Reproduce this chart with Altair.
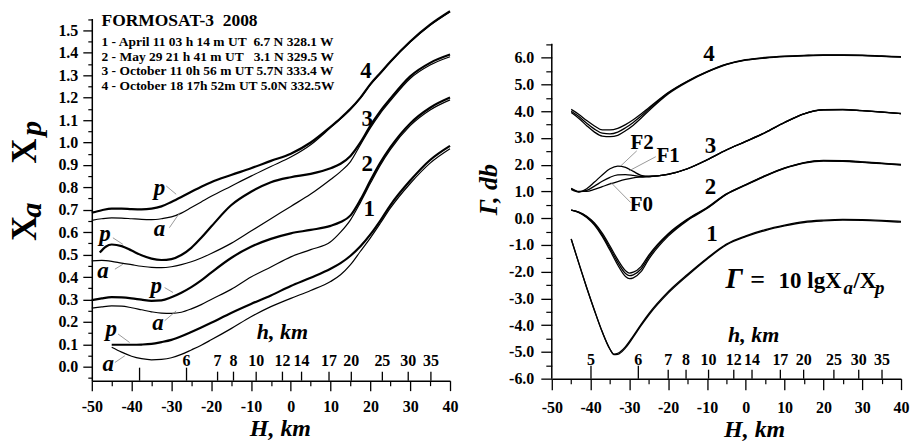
import altair as alt
import pandas as pd

FONT = "Liberation Serif"
NB = "\u00a0"

# ======================= LEFT PANEL DATA (Xa, Xp vs H) =======================
H_grid = [-50, -47.5, -45, -42.5, -40, -37.5, -35, -32.5, -30, -27.5, -25, -22.5, -20,
          -15, -10, -5, 0, 5, 10, 12.5, 15, 17.5, 20, 22.5, 25, 30, 35, 40]
H_3p = [-48, -46.5, -45, -42.5, -40, -37.5, -35, -32.5, -30, -27.5, -25, -22.5, -20,
        -15, -10, -5, 0, 5, 10, 12.5, 15, 17.5, 20, 22.5, 25, 30, 35, 40]
H_1 = [-45, -42.5, -40, -37.5, -35, -32.5, -30, -27.5, -25, -22.5, -20,
       -15, -10, -5, 0, 5, 10, 12.5, 15, 17.5, 20, 22.5, 25, 30, 35, 40]

x4p = [0.687, 0.698, 0.705, 0.705, 0.703, 0.702, 0.705, 0.715, 0.735, 0.757, 0.78, 0.803, 0.823,
       0.855, 0.885, 0.918, 0.95, 1.0, 1.07, 1.108, 1.15, 1.2, 1.26, 1.31, 1.36, 1.45, 1.525, 1.585]
x4a = [0.653, 0.66, 0.664, 0.663, 0.66, 0.657, 0.656, 0.66, 0.668, 0.685, 0.71, 0.735, 0.76,
       0.805, 0.85, 0.893, 0.935, 0.99, 1.066, 1.105, 1.148, 1.198, 1.258, 1.308, 1.358, 1.448, 1.523, 1.583]
x3p = [0.509, 0.535, 0.545, 0.538, 0.518, 0.497, 0.482, 0.476, 0.48, 0.498, 0.53, 0.575, 0.625,
       0.72, 0.78, 0.823, 0.845, 0.86, 0.885, 0.905, 0.94, 1.0, 1.075, 1.14, 1.195, 1.295, 1.355, 1.392]
x3a = [0.472, 0.474, 0.47, 0.462, 0.455, 0.448, 0.443, 0.442, 0.446, 0.455, 0.468, 0.485, 0.505,
       0.55, 0.605, 0.66, 0.715, 0.77, 0.835, 0.87, 0.915, 0.99, 1.065, 1.13, 1.185, 1.285, 1.345, 1.382]
x2p = [0.297, 0.305, 0.31, 0.309, 0.305, 0.299, 0.294, 0.296, 0.31, 0.33, 0.355, 0.385, 0.42,
       0.485, 0.535, 0.57, 0.595, 0.61, 0.628, 0.645, 0.675, 0.745, 0.83, 0.91, 0.978, 1.085, 1.155, 1.2]
x2a = [0.261, 0.267, 0.271, 0.27, 0.263, 0.254, 0.245, 0.239, 0.238, 0.243, 0.258, 0.277, 0.3,
       0.345, 0.4, 0.445, 0.49, 0.522, 0.557, 0.6, 0.655, 0.733, 0.818, 0.899, 0.968, 1.075, 1.145, 1.19]
x1p = [0.098, 0.098, 0.098, 0.099, 0.102, 0.11, 0.12, 0.136, 0.155, 0.175, 0.196,
       0.24, 0.28, 0.318, 0.36, 0.397, 0.437, 0.462, 0.495, 0.537, 0.59, 0.652, 0.72, 0.83, 0.922, 0.985]
x1a = [0.087, 0.065, 0.047, 0.036, 0.031, 0.033, 0.04, 0.055, 0.075, 0.096, 0.12,
       0.17, 0.223, 0.268, 0.305, 0.34, 0.38, 0.41, 0.455, 0.515, 0.575, 0.64, 0.707, 0.817, 0.908, 0.972]

left_series = [
    ("4p", "p", H_grid, x4p), ("4a", "a", H_grid, x4a),
    ("3p", "p", H_3p, x3p), ("3a", "a", H_grid, x3a),
    ("2p", "p", H_grid, x2p), ("2a", "a", H_grid, x2a),
    ("1p", "p", H_1, x1p), ("1a", "a", H_1, x1a),
]

# p / a labels and their leader lines
pa_text = ["p", "a", "p", "a", "p", "a", "p", "a"]
pa_H = [-33.0, -33.0, -46.7, -47.2, -33.8, -33.4, -45.1, -45.9]
pa_v = [0.798, 0.613, 0.592, 0.427, 0.36, 0.197, 0.168, 0.012]
ldL_H1 = [-31.3, -30.5, -44.7, -44.2, -31.7, -31.7, -43.4, -44.2]
ldL_v1 = [0.806, 0.62, 0.575, 0.435, 0.353, 0.205, 0.146, 0.019]
ldL_H2 = [-28.8, -27.9, -42.2, -42.2, -29.6, -28.8, -40.5, -41.7]
ldL_v2 = [0.769, 0.687, 0.546, 0.457, 0.331, 0.249, 0.108, 0.049]

numL_text = ["4", "3", "2", "1"]
numL_H = [18.9, 19.2, 19.2, 19.7]
numL_v = [1.317, 1.104, 0.903, 0.703]

# h (km) scale marks along the H axis
hL_vals = [5, 6, 7, 8, 10, 12, 14, 17, 20, 25, 30, 35]
hL_text = ["", "6", "7", "8", "10", "12", "14", "17", "20", "25", "30", "35"]
hL_H = [-38.0, -26.2, -18.4, -14.4, -8.7, -2.1, 2.7, 9.6, 15.2, 23.0, 29.5, 35.2]

title_main = "FORMOSAT-3" + NB + " 2008"
legend_lines = [
    "1 - April 11 03 h 14 m UT" + NB + " 6.7 N 328.1 W",
    "2 - May 29 21 h 41 m UT" + NB + NB + " 3.1 N 329.5 W",
    "3 - October 11 0h 56 m UT 5.7N 333.4 W",
    "4 - October 18 17h 52m UT 5.0N 332.5W",
]

# ======================= RIGHT PANEL DATA (Gamma vs H) =======================
HR = [-45, -43, -41, -39, -37, -35, -33, -31, -29, -27, -25, -20, -15, -10, -5, 0, 5, 10, 15, 20, 25, 30, 35, 40]
g4_hi = [4.07, 3.88, 3.65, 3.45, 3.3, 3.3, 3.36, 3.5, 3.68, 3.9, 4.13, 4.7, 5.13, 5.48, 5.76, 5.93, 6.01, 6.06, 6.09, 6.11, 6.11, 6.1, 6.07, 6.04]
g4_mid = [4.0, 3.8, 3.55, 3.33, 3.18, 3.15, 3.22, 3.38, 3.58, 3.82, 4.08, 4.68, 5.12, 5.47, 5.75, 5.92, 6.0, 6.05, 6.08, 6.1, 6.1, 6.09, 6.06, 6.03]
g4_lo = [3.95, 3.73, 3.46, 3.22, 3.07, 3.05, 3.1, 3.27, 3.48, 3.74, 4.02, 4.65, 5.1, 5.46, 5.74, 5.91, 5.99, 6.04, 6.07, 6.09, 6.09, 6.08, 6.05, 6.02]
g3_F0 = [1.12, 1.0, 1.0, 1.08, 1.18, 1.28, 1.37, 1.45, 1.51, 1.54, 1.56, 1.64, 1.85, 2.18, 2.55, 2.87, 3.2, 3.58, 3.9, 4.05, 4.06, 4.02, 3.97, 3.91]
g3_F1 = [1.1, 0.99, 1.04, 1.2, 1.38, 1.53, 1.62, 1.63, 1.6, 1.56, 1.56, 1.64, 1.85, 2.18, 2.55, 2.87, 3.2, 3.58, 3.9, 4.05, 4.06, 4.02, 3.97, 3.91]
g3_F2 = [1.08, 0.98, 1.1, 1.35, 1.62, 1.85, 1.95, 1.9, 1.75, 1.6, 1.56, 1.645, 1.855, 2.185, 2.555, 2.875, 3.205, 3.585, 3.905, 4.055, 4.065, 4.025, 3.975, 3.915]

HR2 = [-45, -43, -41, -39, -37, -35, -33, -31, -30, -29, -27, -25, -20, -15, -10, -5, 0, 5, 10, 15, 20, 25, 30, 35, 40]
g2_hi = [0.3, 0.23, 0.07, -0.18, -0.56, -1.04, -1.55, -1.96, -2.05, -2.02, -1.81, -1.38, -0.58, -0.03, 0.4, 0.91, 1.26, 1.59, 1.88, 2.08, 2.16, 2.15, 2.11, 2.06, 2.01]
g2_mid = [0.3, 0.22, 0.05, -0.22, -0.62, -1.12, -1.65, -2.07, -2.15, -2.12, -1.9, -1.45, -0.62, -0.05, 0.38, 0.9, 1.25, 1.58, 1.87, 2.07, 2.15, 2.14, 2.1, 2.05, 2.0]
g2_lo = [0.3, 0.21, 0.03, -0.26, -0.68, -1.2, -1.75, -2.18, -2.26, -2.23, -2.0, -1.53, -0.67, -0.08, 0.36, 0.89, 1.24, 1.57, 1.86, 2.06, 2.14, 2.13, 2.09, 2.04, 1.99]

HR1 = [-45, -43, -41, -39, -37, -35, -34, -33, -31, -29, -27, -25, -20, -15, -10, -5, 0, 5, 10, 15, 20, 25, 30, 35, 40]
g1_a = [-0.78, -1.7, -2.6, -3.45, -4.25, -4.9, -5.08, -5.05, -4.8, -4.4, -3.97, -3.57, -2.75, -2.1, -1.5, -0.97, -0.66, -0.43, -0.26, -0.13, -0.07, -0.04, -0.05, -0.08, -0.12]
g1_b = [-0.78, -1.7, -2.6, -3.45, -4.25, -4.9, -5.1, -5.09, -4.85, -4.45, -4.02, -3.62, -2.8, -2.14, -1.53, -1.0, -0.69, -0.46, -0.29, -0.16, -0.1, -0.07, -0.08, -0.11, -0.15]

right_series = [
    ("4hi", HR, g4_hi), ("4mid", HR, g4_mid), ("4lo", HR, g4_lo),
    ("3F0", HR, g3_F0), ("3F1", HR, g3_F1), ("3F2", HR, g3_F2),
    ("2hi", HR2, g2_hi), ("2mid", HR2, g2_mid), ("2lo", HR2, g2_lo),
    ("1a", HR1, g1_a), ("1b", HR1, g1_b),
]

F_text = ["F2", "F1", "F0"]
F_H = [-26.7, -20.0, -26.9]
F_g = [2.83, 2.33, 0.50]
ldR_H1 = [-28.1, -23.2, -29.7]
ldR_g1 = [2.52, 2.30, 0.59]
ldR_H2 = [-32.2, -30.1, -34.8]
ldR_g2 = [1.96, 1.77, 1.34]

numR_text = ["4", "3", "2", "1"]
numR_H = [-9.5, -9.1, -9.1, -8.7]
numR_g = [6.13, 2.70, 1.15, -0.59]

hR_vals = [5, 6, 7, 8, 10, 12, 14, 17, 20, 25, 30, 35]
hR_text = ["5", "6", "7", "8", "10", "12", "14", "17", "20", "25", "30", "35"]
hR_H = [-39.9, -27.7, -20.0, -15.4, -9.6, -3.1, 1.6, 8.9, 14.9, 22.7, 29.1, 35.1]

# ======================= BUILD TABLES =======================
rows = []
for name, kind, hs, vs in left_series:
    for h, v in zip(hs, vs):
        rows.append({"curve": name, "kind": kind, "H": h, "v": v})
dfL = pd.DataFrame(rows)

rows = []
for name, hs, gs in right_series:
    for h, g in zip(hs, gs):
        rows.append({"curve": name, "H": h, "g": g})
dfR = pd.DataFrame(rows)

df_pa = pd.DataFrame({"t": pa_text, "H": pa_H, "v": pa_v})
df_ldL = pd.DataFrame({"H": ldL_H1, "v": ldL_v1, "H2": ldL_H2, "v2": ldL_v2})
df_numL = pd.DataFrame({"t": numL_text, "H": numL_H, "v": numL_v})
df_hL = pd.DataFrame({"h": hL_vals, "t": hL_text, "H": hL_H})

df_F = pd.DataFrame({"t": F_text, "H": F_H, "g": F_g})
df_ldR = pd.DataFrame({"H": ldR_H1, "g": ldR_g1, "H2": ldR_H2, "g2": ldR_g2})
df_numR = pd.DataFrame({"t": numR_text, "H": numR_H, "g": numR_g})
df_hR = pd.DataFrame({"h": hR_vals, "t": hR_text, "H": hR_H})

one = pd.DataFrame({"k": [0]})

# ======================= SCALES / AXES =======================
WL, HLp = 359, 363
WR, HRp = 350, 361
xsL = alt.Scale(domain=[-50, 40], nice=False, zero=False)
ysL = alt.Scale(domain=[-0.062, 1.553], nice=False, zero=False)
xsR = alt.Scale(domain=[-50, 40], nice=False, zero=False)
ysR = alt.Scale(domain=[-6, 7.47], nice=False, zero=False)

lab = dict(labelFont=FONT, labelFontWeight="bold", labelFontSize=16, labelColor="black")
neg_d = "datum.value < 0 ? '-' + format(-datum.value, 'd') : format(datum.value, 'd')"
neg_f = "datum.value < 0 ? '-' + format(-datum.value, '.1f') : format(datum.value, '.1f')"


def x_main(tick, pad):
    return alt.Axis(orient="bottom", values=list(range(-50, 41, 10)), labelExpr=neg_d,
                    tickSize=tick, labelPadding=pad, title=None, grid=False,
                    domainColor="black", domainWidth=1.5, tickColor="black", tickWidth=1.3,
                    labelFlush=False, labelOverlap=False, **lab)


def x_minor(tick):
    return alt.Axis(orient="bottom", values=list(range(-45, 40, 10)), labels=False,
                    tickSize=tick, domain=False, grid=False, title=None,
                    tickColor="black", tickWidth=1.2)


def y_minor(vals, tick):
    return alt.Axis(orient="left", values=vals, labels=False, tickSize=tick, domain=False,
                    grid=False, title=None, tickColor="black", tickWidth=1.2)


def txt(text, x, y, size, weight="bold", style="normal", align="left", angle=0, baseline="alphabetic"):
    kw = dict(text=text, font=FONT, fontSize=size, fontWeight=weight, fontStyle=style,
              align=align, baseline=baseline, color="black")
    if angle:
        kw["angle"] = angle
    return alt.Chart(one).mark_text(**kw).encode(x=alt.value(x), y=alt.value(y))


# ======================= LEFT PANEL =======================
yL_main = alt.Axis(orient="left", values=[round(i * 0.1, 1) for i in range(16)],
                   labelExpr="format(datum.value, '.1f')", tickSize=9, labelPadding=5,
                   title=None, grid=False, domainColor="black", domainWidth=1.5,
                   tickColor="black", tickWidth=1.3, labelOverlap=False, **lab)
yL_minor_vals = [round(-0.05 + i * 0.1, 2) for i in range(17)]

L_p = alt.Chart(dfL).transform_filter("datum.kind == 'p'").mark_line(
    color="black", strokeWidth=2.2, interpolate="monotone").encode(
    x=alt.X("H:Q", scale=xsL, axis=x_main(10, 8)),
    y=alt.Y("v:Q", scale=ysL, axis=yL_main),
    detail="curve:N")
L_a = alt.Chart(dfL).transform_filter("datum.kind == 'a'").mark_line(
    color="black", strokeWidth=1.2, interpolate="monotone").encode(
    x=alt.X("H:Q", scale=xsL, axis=None),
    y=alt.Y("v:Q", scale=ysL, axis=None),
    detail="curve:N")
L_minor = alt.Chart(dfL).mark_point(opacity=0).encode(
    x=alt.X("H:Q", scale=xsL, axis=x_minor(5)),
    y=alt.Y("v:Q", scale=ysL, axis=y_minor(yL_minor_vals, 4)))
L_lead = alt.Chart(df_ldL).mark_rule(color="#808080", strokeWidth=0.8).encode(
    x=alt.X("H:Q", scale=xsL, axis=None), y=alt.Y("v:Q", scale=ysL, axis=None),
    x2="H2:Q", y2="v2:Q")
L_pa = alt.Chart(df_pa).mark_text(font=FONT, fontSize=23, fontStyle="italic", fontWeight="bold",
                                 align="center", baseline="middle", color="black").encode(
    x=alt.X("H:Q", scale=xsL, axis=None), y=alt.Y("v:Q", scale=ysL, axis=None), text="t:N")
L_num = alt.Chart(df_numL).mark_text(font=FONT, fontSize=23, fontWeight="bold",
                                    align="center", baseline="middle", color="black").encode(
    x=alt.X("H:Q", scale=xsL, axis=None), y=alt.Y("v:Q", scale=ysL, axis=None), text="t:N")
L_htick_long = alt.Chart(df_hL).transform_filter("datum.h <= 6").mark_rule(
    color="black", strokeWidth=1.3).encode(
    x=alt.X("H:Q", scale=xsL, axis=None), y=alt.value(HLp), y2=alt.value(HLp - 13))
L_htick_short = alt.Chart(df_hL).transform_filter("datum.h > 6").mark_rule(
    color="black", strokeWidth=1.3).encode(
    x=alt.X("H:Q", scale=xsL, axis=None), y=alt.value(HLp), y2=alt.value(HLp - 9))
L_hlab = alt.Chart(df_hL).mark_text(font=FONT, fontSize=16, fontWeight="bold",
                                   align="center", baseline="alphabetic", color="black").encode(
    x=alt.X("H:Q", scale=xsL, axis=None), y=alt.value(HLp - 15), text="t:N")

L_texts = [
    txt(title_main, 9.7, 8, 17.5),
    txt(legend_lines[0], 9.7, 28, 13.5),
    txt(legend_lines[1], 9.7, 42.3, 13.5),
    txt(legend_lines[2], 9.7, 57, 13.5),
    txt(legend_lines[3], 9.7, 71.3, 13.5),
    txt("h, km", 191, 321, 22, style="italic", align="center"),
    txt("H, km", 189, 418, 24, style="italic", align="center"),
    # y-axis title  X_a   X_p  (rotated)
    txt("X", -56, 210.5, 35, align="center", angle=270),
    txt("a", -51, 192, 30, style="italic", align="center", angle=270),
    txt("X", -56, 133, 35, align="center", angle=270),
    txt("p", -51, 110, 30, style="italic", align="center", angle=270),
]

left = alt.layer(L_p, L_a, L_minor, L_lead, L_pa, L_num, L_htick_long, L_htick_short, L_hlab,
                 *L_texts).resolve_axis(x="independent", y="independent").properties(
    width=WL, height=HLp)

# ======================= RIGHT PANEL =======================
yR_main = alt.Axis(orient="left", values=list(range(-6, 7)), labelExpr=neg_f, tickSize=11,
                   labelPadding=7, title=None, grid=False, domain=False,
                   tickColor="black", tickWidth=1.3, labelOverlap=False, **lab)
yR_minor_vals = [-5.5 + i for i in range(13)]

R_lines = alt.Chart(dfR).mark_line(color="black", strokeWidth=1.3, interpolate="monotone").encode(
    x=alt.X("H:Q", scale=xsR, axis=x_main(11, 10)),
    y=alt.Y("g:Q", scale=ysR, axis=yR_main),
    detail="curve:N")
R_minor = alt.Chart(dfR).mark_point(opacity=0).encode(
    x=alt.X("H:Q", scale=xsR, axis=x_minor(5)),
    y=alt.Y("g:Q", scale=ysR, axis=y_minor(yR_minor_vals, 6)))
R_domain = alt.Chart(one).mark_rule(color="black", strokeWidth=1.5).encode(
    x=alt.value(0), y=alt.Y(datum=-6, scale=ysR, axis=None), y2=alt.Y2(datum=6.52))
R_lead = alt.Chart(df_ldR).mark_rule(color="#808080", strokeWidth=0.8).encode(
    x=alt.X("H:Q", scale=xsR, axis=None), y=alt.Y("g:Q", scale=ysR, axis=None),
    x2="H2:Q", y2="g2:Q")
R_F = alt.Chart(df_F).mark_text(font=FONT, fontSize=21, fontWeight="bold",
                               align="center", baseline="middle", color="black").encode(
    x=alt.X("H:Q", scale=xsR, axis=None), y=alt.Y("g:Q", scale=ysR, axis=None), text="t:N")
R_num = alt.Chart(df_numR).mark_text(font=FONT, fontSize=23, fontWeight="bold",
                                    align="center", baseline="middle", color="black").encode(
    x=alt.X("H:Q", scale=xsR, axis=None), y=alt.Y("g:Q", scale=ysR, axis=None), text="t:N")
R_htick_long = alt.Chart(df_hR).transform_filter("datum.h <= 6").mark_rule(
    color="black", strokeWidth=1.3).encode(
    x=alt.X("H:Q", scale=xsR, axis=None), y=alt.value(HRp), y2=alt.value(HRp - 13))
R_htick_short = alt.Chart(df_hR).transform_filter("datum.h > 6").mark_rule(
    color="black", strokeWidth=1.3).encode(
    x=alt.X("H:Q", scale=xsR, axis=None), y=alt.value(HRp), y2=alt.value(HRp - 9))
R_hlab = alt.Chart(df_hR).mark_text(font=FONT, fontSize=16, fontWeight="bold",
                                   align="center", baseline="alphabetic", color="black").encode(
    x=alt.X("H:Q", scale=xsR, axis=None), y=alt.value(HRp - 13.5), text="t:N")

R_texts = [
    txt("h, km", 202.3, 324.7, 22, style="italic", align="center"),
    txt("H, km", 203.3, 419.5, 24, style="italic", align="center"),
    txt("\u0393, db", -54.7, 171.5, 26, style="italic", align="center", angle=270),
    # formula  Γ = 10 lgXa/Xp
    txt("\u0393", 174, 270.3, 29, style="italic"),
    txt("=", 199, 270.3, 26),
    txt("10 lgX", 227.3, 270.3, 23),
    txt("a", 292.3, 276, 19, style="italic"),
    txt("/X", 302.3, 270.3, 23),
    txt("p", 324, 276, 19, style="italic"),
]

right = alt.layer(R_lines, R_minor, R_domain, R_lead, R_F, R_num, R_htick_long, R_htick_short,
                  R_hlab, *R_texts).resolve_axis(x="independent", y="independent").properties(
    width=WR, height=HRp)

chart = alt.hconcat(left, right, spacing=102, bounds="flush").configure_view(
    stroke=None).properties(
    background="white", padding={"left": 8, "top": 6, "right": 3, "bottom": 2})

chart.save("out.html", embed_options={"renderer": "svg", "actions": False})
